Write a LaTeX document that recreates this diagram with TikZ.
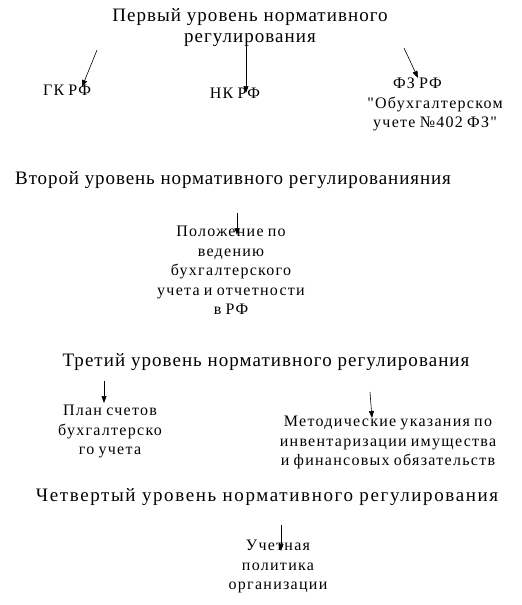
\documentclass[tikz,border=0pt]{standalone}
\usepackage{fontspec}
\setmainfont{Liberation Serif}
\newfontfamily\lvlfont{Liberation Serif}[LetterSpace=5.5]
\newfontfamily\docfont{Liberation Serif}[LetterSpace=8,WordSpace=0.8]
\usetikzlibrary{arrows.meta}
\tikzset{
  lvl/.style={font=\lvlfont\fontsize{19}{21}\selectfont,align=center,inner sep=0pt},
  doc/.style={font=\docfont\fontsize{16}{19.5}\selectfont,align=center,inner sep=0pt,anchor=north},
  arr/.style={-{Triangle[length=7pt,width=5pt]},line width=0.6pt}
}
\begin{document}
\begin{tikzpicture}[x=1pt,y=-1pt]
  \useasboundingbox (0,0) rectangle (522,605);
  % first level
  \node[lvl] (lvlA) at (250,28) {Первый уровень нормативного\\регулирования};
  \node[doc] (gk) at (67,85) {ГК РФ};
  \node[doc] (nk) at (235,88) {НК РФ};
  \node[doc] (fz) at (435,78) {ФЗ РФ\hspace*{2.2em}\\"Обухгалтерском\\учете №402 ФЗ"};
  \coordinate (sA1) at (97,50);
  \coordinate (sA2) at (246,42);
  \coordinate (sA3) at (404,48);
  \draw[arr] (sA1) -- ([xshift=15pt,yshift=-2pt]gk.north);
  \draw[arr] (sA2) -- ([xshift=11pt,yshift=-5pt]nk.north);
  \draw[arr] (sA3) -- ([xshift=-17pt]fz.north);
  % second level
  \node[lvl,anchor=west,font=\lvlfont\addfontfeatures{LetterSpace=4.8}\fontsize{19}{21}\selectfont] (lvlB) at (15,180) {Второй уровень нормативного регулированияния};
  \node[doc] (pol) at (231,226) {Положение по\\ведению\\бухгалтерского\\учета и отчетности\\в РФ};
  \coordinate (sB) at (237,213);
  \draw[arr] (sB) -- ([xshift=6pt,yshift=-9pt]pol.north);
  % third level
  \node[lvl] (lvlC) at (266,362) {Третий уровень нормативного регулирования};
  \node[doc] (plan) at (110,405) {План счетов\\бухгалтерско\\го учета};
  \node[doc] (met) at (388,416) {Методические указания по\\инвентаризации имущества\\и финансовых обязательств};
  \coordinate (sC1) at (104,381);
  \coordinate (sC2) at (370,392);
  \draw[arr] (sC1) -- ([xshift=-6pt,yshift=2pt]plan.north);
  \draw[arr] (sC2) -- ([xshift=-16pt,yshift=-2pt]met.north);
  % fourth level
  \node[lvl,font=\lvlfont\addfontfeatures{LetterSpace=8.5}\fontsize{19}{21}\selectfont] (lvlD) at (267,497) {Четвертый уровень нормативного регулирования};
  \node[doc] (uch) at (278,540) {Учетная\\политика\\организации};
  \coordinate (sD) at (281,525);
  \draw[arr] (sD) -- ([xshift=3pt,yshift=-11pt]uch.north);
\end{tikzpicture}
\end{document}
